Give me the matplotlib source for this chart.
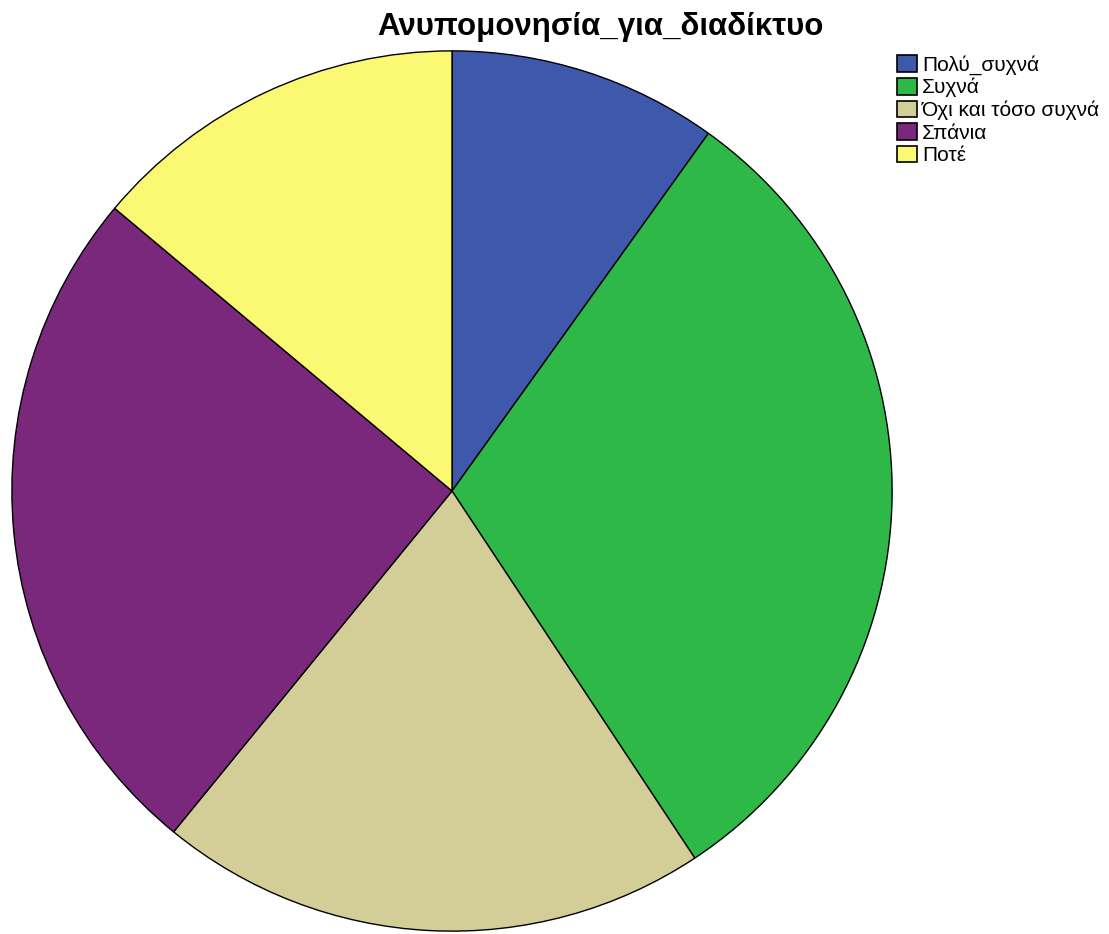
import matplotlib
matplotlib.use("Agg")
import matplotlib.pyplot as plt

categories = ["Πολύ_συχνά", "Συχνά", "Όχι και τόσο συχνά", "Σπάνια", "Ποτέ"]
values = [9.9, 30.8, 20.2, 25.2, 13.9]
colors = ["#3e58ac", "#2eb848", "#d3ce97", "#79287c", "#fbf873"]
title = "Ανυπομονησία_για_διαδίκτυο"

plt.rcParams['font.family'] = ['Liberation Sans', 'DejaVu Sans']

W, H = 1109, 934
fig = plt.figure(figsize=(W / 100, H / 100), dpi=100)
cx, cy, r = 452, 491, 441
ax = fig.add_axes([(cx - r) / W, (H - cy - r) / H, 2 * r / W, 2 * r / H])
wedges, _ = ax.pie(values, colors=colors, startangle=90, counterclock=False,
                   radius=1.0, wedgeprops=dict(edgecolor="black", linewidth=1.0))
ax.set_xlim(-1.002, 1.002)
ax.set_ylim(-1.002, 1.002)
ax.set_aspect("equal")
ax.axis("off")

fig.text(600 / W, 1 - 27 / H, title, ha="center", va="center",
         fontsize=22.5, fontweight="bold")

leg = fig.legend(wedges, categories, loc="upper left",
                 bbox_to_anchor=(897 / W, 1 - 55 / H), frameon=False,
                 fontsize=15, handlelength=0.95, handleheight=0.85,
                 handletextpad=0.25, labelspacing=0.15, borderpad=0,
                 borderaxespad=0)
for h in leg.legend_handles:
    h.set_edgecolor("black")
    h.set_linewidth(1.2)

fig.savefig("out.png", dpi=100)
